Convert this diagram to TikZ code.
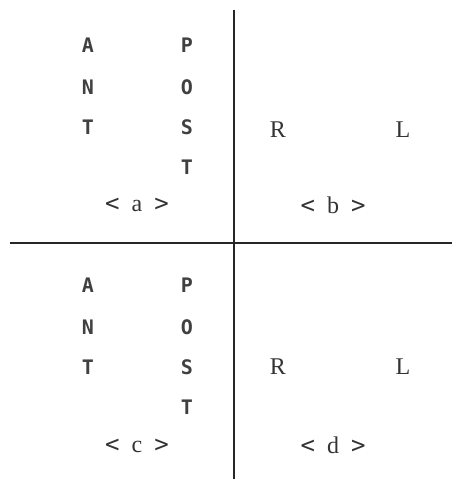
\documentclass[tikz,border=0pt]{standalone}
\usepackage{fontspec}
\setmainfont{Liberation Serif}
\newfontfamily\monof{DejaVu Sans Mono}
\begin{document}
\begin{tikzpicture}[x=1pt,y=-1pt,
  mono/.style={font=\monof\bfseries\fontsize{20}{20}\selectfont, text=black!75, inner sep=0pt},
  serif/.style={font=\fontsize{24}{24}\selectfont, text=black!80, inner sep=0pt},
  panellabel/.style={font=\fontsize{24}{24}\selectfont, text=black!80, inner sep=0pt},
  axis/.style={line width=2pt, black!85}]
\useasboundingbox (0,0) rectangle (452,479);
\newcommand{\plab}[1]{{\monof <}\hspace{0.5em}#1\hspace{0.5em}{\monof >}}
% dividing lines
\coordinate (vt) at (234,10);
\coordinate (vb) at (234,479);
\coordinate (hl) at (10,243);
\coordinate (hr) at (452,243);
\draw[axis] (vt) -- (vb);
\draw[axis] (hl) -- (hr);
% panel a
\node[mono] (a1) at (88,45) {A};
\node[mono] (a2) at (88,87) {N};
\node[mono] (a3) at (88,127) {T};
\node[mono] (a4) at (187,45) {P};
\node[mono] (a5) at (187,87) {O};
\node[mono] (a6) at (187,127) {S};
\node[mono] (a7) at (187,167) {T};
\node[panellabel] (la) at (137,205) {\plab{a}};
% panel b
\node[serif] (bR) at (278,130) {R};
\node[serif] (bL) at (403,130) {L};
\node[panellabel] (lb) at (333,205) {\plab{b}};
% panel c
\node[mono] (c1) at (88,285) {A};
\node[mono] (c2) at (88,327) {N};
\node[mono] (c3) at (88,367) {T};
\node[mono] (c4) at (187,285) {P};
\node[mono] (c5) at (187,327) {O};
\node[mono] (c6) at (187,367) {S};
\node[mono] (c7) at (187,407) {T};
\node[panellabel] (lc) at (137,446) {\plab{c}};
% panel d
\node[serif] (dR) at (278,367) {R};
\node[serif] (dL) at (403,367) {L};
\node[panellabel] (ld) at (333,445) {\plab{d}};
\end{tikzpicture}
\end{document}
